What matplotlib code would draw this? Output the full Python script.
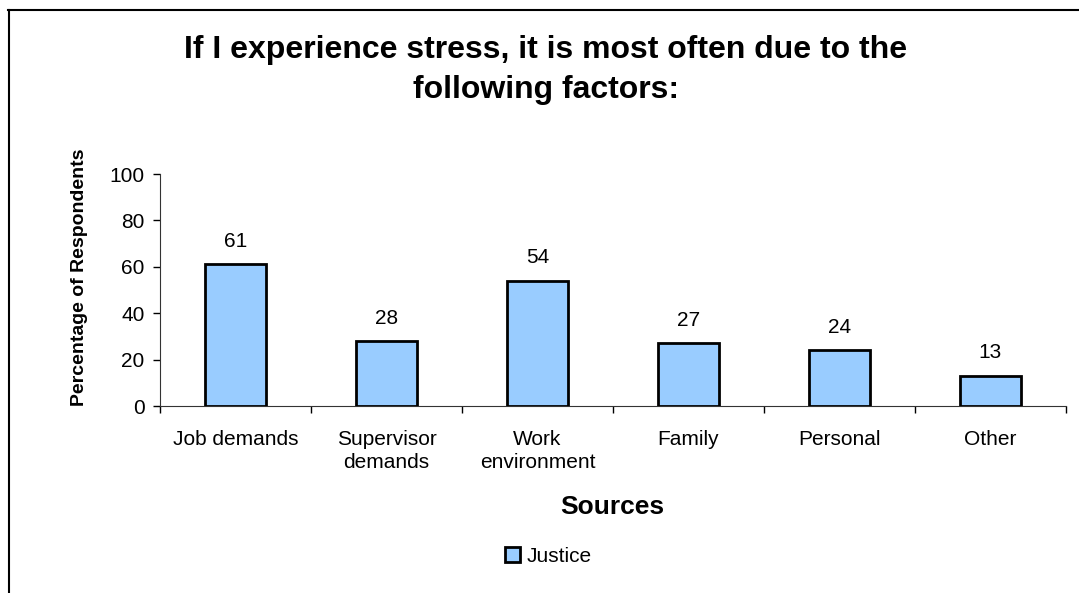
import numpy as np
import matplotlib
matplotlib.use("Agg")
import matplotlib.pyplot as plt
from matplotlib.lines import Line2D

plt.rcParams['font.family'] = ['Liberation Sans', 'DejaVu Sans']

# survey data
sources = ["Job demands", "Supervisor\ndemands", "Work\nenvironment", "Family", "Personal", "Other"]
justice = [61, 28, 54, 27, 24, 13]
yticks = [0, 20, 40, 60, 80, 100]
title_lines = ["If I experience stress, it is most often due to the", "following factors:"]

W, H = 1079, 593
fig = plt.figure(figsize=(W / 100, H / 100), dpi=100)
ax = fig.add_axes([160 / W, 1 - 406 / H, (1066 - 160) / W, (406 - 174) / H])

x = np.arange(len(sources))
bars = ax.bar(x, justice, width=0.4, color="#99ccff", edgecolor="black",
              linewidth=2, label="Justice", zorder=3)
for xi, v in zip(x, justice):
    ax.text(xi, v + 7.5, str(v), ha="center", va="baseline", fontsize=15)

ax.set_xlim(-0.5, len(sources) - 0.5)
ax.set_ylim(0, 100)
ax.set_yticks(yticks)
ax.tick_params(axis="y", direction="out", length=5, width=1, labelsize=15, pad=6)

# category labels centred, tick marks between categories
ax.set_xticks(x)
ax.set_xticklabels(sources, fontsize=15, linespacing=1.3)
ax.tick_params(axis="x", which="major", length=0, pad=17)
ax.set_xticks(np.arange(-0.5, len(sources)), minor=True)
ax.tick_params(axis="x", which="minor", direction="out", length=5, width=1)

for s in ["top", "right"]:
    ax.spines[s].set_visible(False)
ax.spines["left"].set_color("#333333")
ax.spines["bottom"].set_color("#333333")

for i, line in enumerate(title_lines):
    fig.text(546 / W, 1 - (58 + 40 * i) / H, line, ha="center", va="baseline",
             fontsize=23, fontweight="bold")
fig.text(612 / W, 1 - 507 / H, "Sources", ha="center", va="center",
         fontsize=19, fontweight="bold")
fig.text(80 / W, 1 - 277 / H, "Percentage of Respondents", ha="center", va="center",
         rotation=90, fontsize=14, fontweight="bold")

fig.legend(handles=[bars], loc="center", bbox_to_anchor=(548 / W, 1 - 556 / H),
           frameon=False, fontsize=15, handlelength=0.75, handleheight=0.75,
           handletextpad=0.3, borderpad=0)

# outer frame (only top and left edges fall inside the image)
fig.add_artist(Line2D([8 / W, 1.0], [1 - 9.5 / H, 1 - 9.5 / H], color="black", linewidth=1.5))
fig.add_artist(Line2D([8.5 / W, 8.5 / W], [0, 1 - 9.5 / H], color="black", linewidth=1.5))

fig.savefig("out.png", dpi=100)
